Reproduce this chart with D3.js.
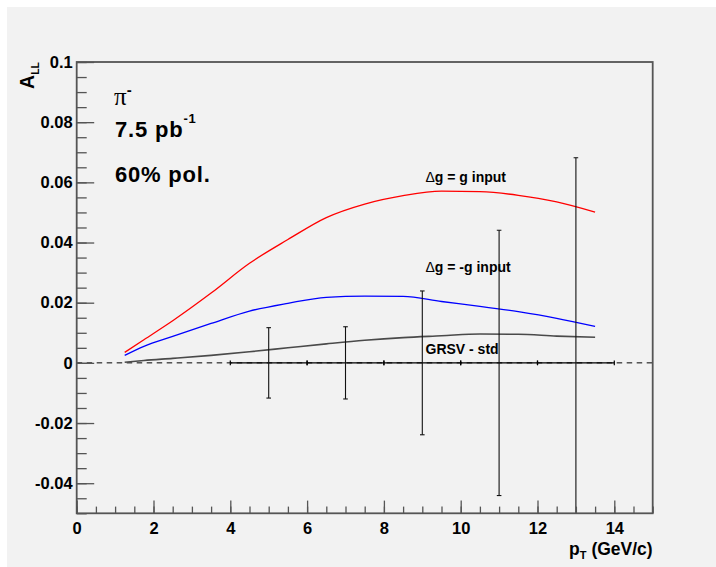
<!DOCTYPE html>
<html>
<head>
<meta charset="utf-8">
<script src="https://cdn.jsdelivr.net/npm/d3@7"></script>
<style>
  html, body { margin: 0; padding: 0; background: #ffffff; }
  svg { display: block; }
  text { font-family: "Liberation Sans", Arial, Helvetica, sans-serif; font-weight: bold; fill: #000; }
</style>
</head>
<body>
<svg id="chart" width="716" height="567"></svg>
<script>
// pT bin centres of the model curves (GeV/c)
const ptCurve = [1.25, 1.75, 2.5, 3.5, 4.5, 5.5, 6.5, 7.5, 8.5, 9.5, 10.5, 11.5, 12.5, 13.5];
// A_LL predictions
const allGluonPlus  = [0.0035, 0.0077, 0.0140, 0.0232, 0.0331, 0.0410, 0.0483, 0.0528, 0.0556, 0.0571, 0.0569, 0.0557, 0.0535, 0.0501];
const allGluonMinus = [0.0025, 0.0055, 0.0088, 0.0131, 0.0172, 0.0198, 0.0218, 0.0222, 0.0221, 0.0204, 0.0188, 0.0170, 0.0148, 0.0121];
const allGrsvStd    = [0.0002, 0.0008, 0.0015, 0.0025, 0.0037, 0.0050, 0.0063, 0.0075, 0.0084, 0.0090, 0.0096, 0.0095, 0.0089, 0.0085];

// projected statistical uncertainties (points centred on A_LL = 0)
const ptPoints = [5, 7, 9, 11, 13];
const ptHalfWidth = [1, 1, 1, 1, 1];
const allPoints = [0, 0, 0, 0, 0];
const allErrors = [0.0117, 0.0120, 0.0239, 0.0441, 0.0682];

// axis ticks
const xTickLabels = [0, 2, 4, 6, 8, 10, 12, 14];
const yTickLabels = [-0.04, -0.02, 0, 0.02, 0.04, 0.06, 0.08, 0.1];

const svg = d3.select("#chart");
const W = 716, H = 567;
const frame = { left: 76.7, right: 652.7, top: 62, bottom: 513.3 };

const x = d3.scaleLinear().domain([0, 15]).range([frame.left, frame.right]);
const y = d3.scaleLinear().domain([-0.05, 0.1]).range([frame.bottom, frame.top]);

// canvas fill
svg.append("rect").attr("x", 7).attr("y", 7).attr("width", W - 7).attr("height", H - 7).attr("fill", "#f2f2f2");

const fmt = d => d === 0 ? "0" : String(+d.toFixed(2));
const axisColor = "#555";

// zero reference line (dashed)
svg.append("line")
  .attr("x1", x(0)).attr("x2", x(15)).attr("y1", y(0)).attr("y2", y(0))
  .attr("stroke", "#000").attr("stroke-width", 1).attr("stroke-dasharray", "5.5,4.5");

// model curves
const line = d3.line().x(d => x(d[0])).y(d => y(d[1])).curve(d3.curveMonotoneX);
const curves = [
  { values: allGluonPlus, color: "#ff0000", width: 1.3 },
  { values: allGluonMinus, color: "#0000ff", width: 1.3 },
  { values: allGrsvStd, color: "#4a4a4a", width: 1.6 }
];
curves.forEach(c => {
  svg.append("path")
    .datum(ptCurve.map((p, i) => [p, c.values[i]]))
    .attr("d", line)
    .attr("fill", "none")
    .attr("stroke", c.color)
    .attr("stroke-width", c.width);
});

// horizontal bin-width bars with end caps
const cap = 2.3;
const hb = svg.append("g").attr("stroke", "#000").attr("stroke-width", 1.2).attr("fill", "none");
ptPoints.forEach((p, i) => {
  const yc = y(allPoints[i]);
  const xl = x(p - ptHalfWidth[i]), xr = x(p + ptHalfWidth[i]);
  hb.append("path").attr("d", `M${xl},${yc}H${xr}`);
  hb.append("path").attr("d", `M${xl},${yc - cap}V${yc + cap}`);
  hb.append("path").attr("d", `M${xr},${yc - cap}V${yc + cap}`);
});

// vertical error bars, clipped to the frame
svg.append("clipPath").attr("id", "frameClip")
  .append("rect").attr("x", frame.left).attr("y", frame.top)
  .attr("width", frame.right - frame.left).attr("height", frame.bottom - frame.top);
const eb = svg.append("g").attr("clip-path", "url(#frameClip)")
  .attr("stroke", "#111").attr("stroke-width", 1.1).attr("fill", "none");
ptPoints.forEach((p, i) => {
  const yt = y(allPoints[i] + allErrors[i]), yb = y(allPoints[i] - allErrors[i]);
  eb.append("path").attr("d", `M${x(p)},${yt}V${yb}`);
  eb.append("path").attr("d", `M${x(p) - cap},${yt}H${x(p) + cap}`);
  eb.append("path").attr("d", `M${x(p) - cap},${yb}H${x(p) + cap}`);
});

// frame
svg.append("rect")
  .attr("x", frame.left).attr("y", frame.top)
  .attr("width", frame.right - frame.left).attr("height", frame.bottom - frame.top)
  .attr("fill", "none").attr("stroke", axisColor).attr("stroke-width", 1.8);

// y axis: minor ticks every 0.005, labelled ticks every 0.02
const yMinor = d3.range(-0.05, 0.1001, 0.005).map(v => +v.toFixed(3));
svg.append("g").attr("transform", `translate(${frame.left},0)`)
  .call(d3.axisLeft(y).tickValues(yMinor).tickSizeInner(-10).tickSizeOuter(0).tickFormat(""))
  .call(g => g.select(".domain").remove())
  .call(g => g.selectAll("line").attr("stroke", axisColor).attr("stroke-width", 1.3));
svg.append("g").attr("transform", `translate(${frame.left},0)`)
  .call(d3.axisLeft(y).tickValues(yTickLabels).tickSizeInner(-17.5).tickSizeOuter(0).tickPadding(4).tickFormat(fmt))
  .call(g => g.select(".domain").remove())
  .call(g => g.selectAll("line").attr("stroke", axisColor).attr("stroke-width", 1.3))
  .call(g => g.selectAll("text").attr("font-size", 16.5).attr("font-family", null).attr("font-weight", null).attr("fill", null));

// x axis: minor ticks every 0.5, labelled ticks every 2
const xMinor = d3.range(0, 15.01, 0.5);
svg.append("g").attr("transform", `translate(0,${frame.bottom})`)
  .call(d3.axisBottom(x).tickValues(xMinor).tickSizeInner(-6.7).tickSizeOuter(0).tickFormat(""))
  .call(g => g.select(".domain").remove())
  .call(g => g.selectAll("line").attr("stroke", axisColor).attr("stroke-width", 1.3));
svg.append("g").attr("transform", `translate(0,${frame.bottom})`)
  .call(d3.axisBottom(x).tickValues(xTickLabels).tickSizeInner(-12.7).tickSizeOuter(0).tickPadding(9).tickFormat(fmt))
  .call(g => g.select(".domain").remove())
  .call(g => g.selectAll("line").attr("stroke", axisColor).attr("stroke-width", 1.3))
  .call(g => g.selectAll("text").attr("font-size", 16.5).attr("font-family", null).attr("font-weight", null).attr("fill", null));

// axis titles
const yTitle = svg.append("text")
  .attr("transform", `translate(33.5,${frame.top}) rotate(-90)`)
  .attr("text-anchor", "end").attr("font-size", 19.5);
yTitle.append("tspan").text("A");
yTitle.append("tspan").attr("font-size", 10.5).attr("dy", 5.5).text("LL");

const xTitle = svg.append("text")
  .attr("x", frame.right).attr("y", 554.5).attr("text-anchor", "end").attr("font-size", 17.5);
xTitle.append("tspan").text("p");
xTitle.append("tspan").attr("font-size", 11).attr("dy", 4).text("T");
xTitle.append("tspan").attr("dy", -4).text(" (GeV/c)");

// run conditions
const pi = svg.append("text").attr("x", 114).attr("y", 105).attr("font-size", 25);
pi.append("tspan").attr("font-family", "Liberation Serif, Times New Roman, serif").attr("font-weight", "normal").text("π");
pi.append("tspan").attr("font-size", 15).attr("dy", -10).text("-");

const lumi = svg.append("text").attr("x", 115).attr("y", 136.5).attr("font-size", 22).attr("letter-spacing", 0.8);
lumi.append("tspan").text("7.5 pb");
lumi.append("tspan").attr("font-size", 13).attr("dy", -14).text("-1");

svg.append("text").attr("x", 115).attr("y", 181.5).attr("font-size", 22).attr("letter-spacing", 0.8).text("60% pol.");

// curve labels
const labels = [
  { prefix: "Δ", text: "g = g input", y: 181.5 },
  { prefix: "Δ", text: "g = -g input", y: 271.5 },
  { prefix: "", text: "GRSV - std", y: 354 }
];
labels.forEach(l => {
  const t = svg.append("text").attr("x", 425.5).attr("y", l.y).attr("font-size", 14);
  if (l.prefix) t.append("tspan").attr("font-weight", "normal").text(l.prefix);
  t.append("tspan").text(l.text);
});
</script>
</body>
</html>
